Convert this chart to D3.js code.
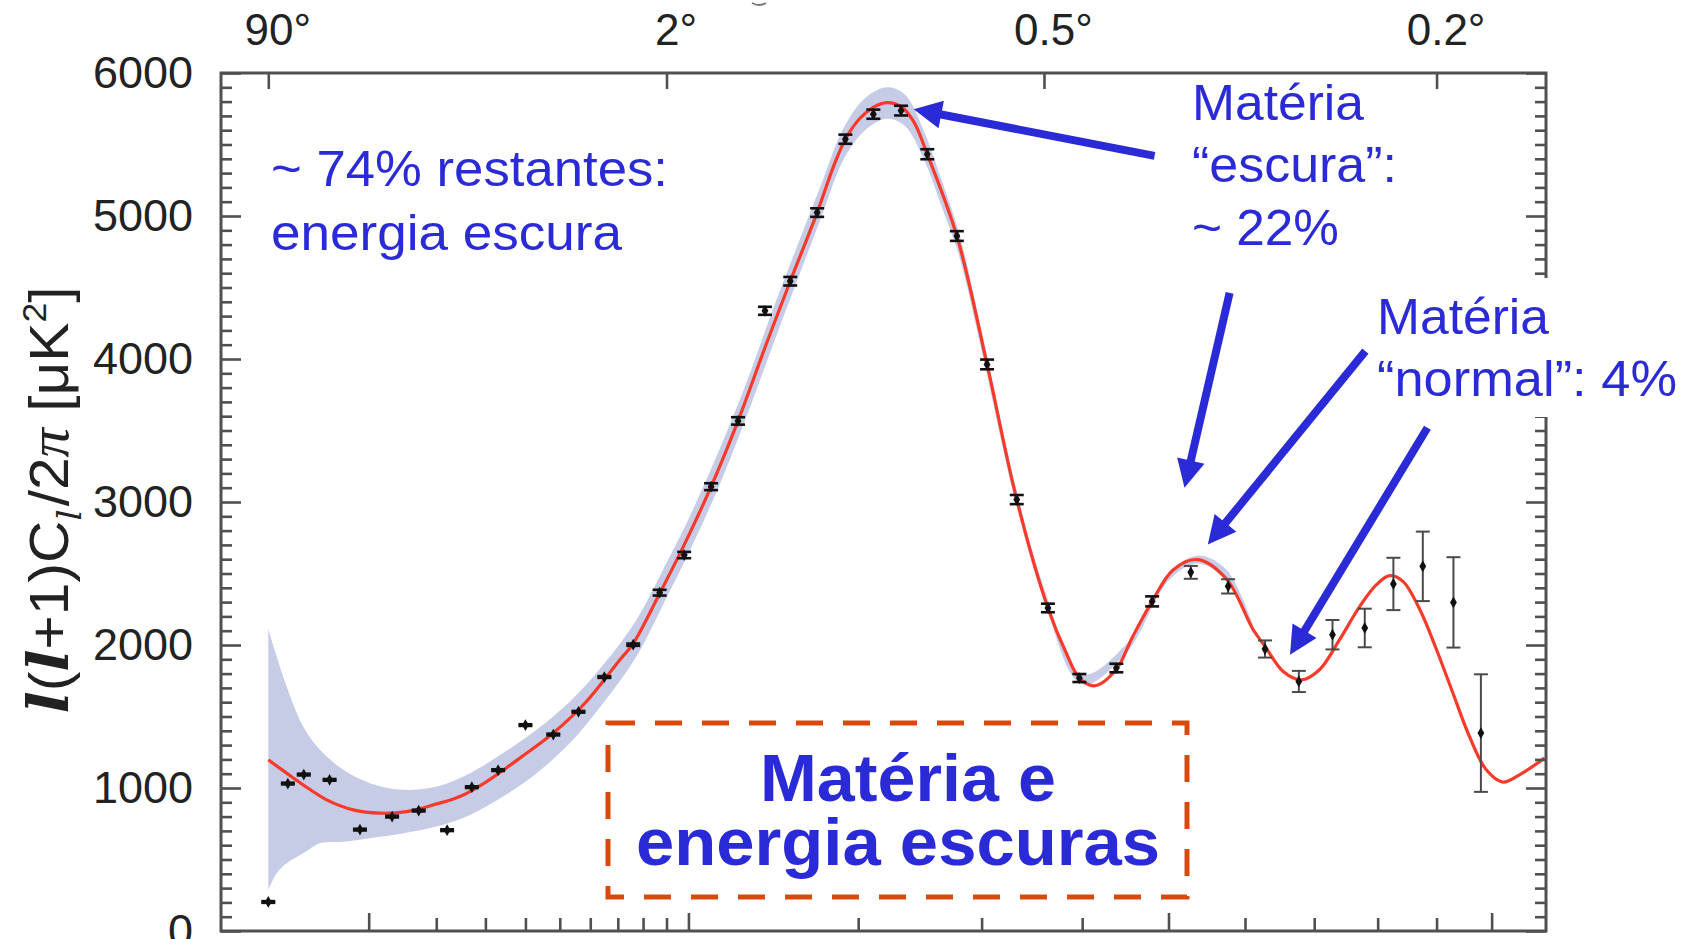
<!DOCTYPE html>
<html>
<head>
<meta charset="utf-8">
<script src="https://cdn.jsdelivr.net/npm/d3@7"></script>
<style>
body{margin:0;background:#fff;overflow:hidden}
svg{display:block;font-family:"Liberation Sans",Arial,Helvetica,sans-serif}
</style>
</head>
<body>
<div id="wrapper"></div>
<script>
// Data
const ell = [2,3,4,6,9,13,17,22,27,33,40,48,56,65,76,87,98,111,125,140,155,172,191,211,232,253,278,305,333,364,397,438,480,528,577,628,677,728,779,826,876,930,980];
const power = [203,1031,1094,1057,709,800,842,705,1006,1125,1440,1374,1533,1776,2002,2366,2629,3107,3567,4337,4544,5024,5537,5712,5737,5432,4860,3962,3017,2259,1769,1839,2305,2508,2410,1972,1745,2072,2119,2427,2550,2298,1384];
const powerErr = [6,6,6,6,6,6,6,6,6,6,6,6,6,6,8,20,22,24,26,28,30,30,32,32,34,35,34,34,32,30,28,30,35,45,50,60,74,103,135,183,243,316,411];

// best-fit model (red line)
const modelEll = [2,2.93,3.96,5.75,8.27,11.4,15.1,19.5,24.5,30.3,38.5,48,58.7,70.8,76,87,98,111,125,140,155,172,183,191,201,211,221,232,242,253,278,305,333,364,383,397,414,438,457,480,506,537,575,611,628,654,681,708,739,771,798,820,842,871,900,929,959,990,1021,1053,1102];
const modelPower = [1197,1104,1022,917,847,824,835,882,940,1045,1209,1384,1605,1897,2010,2360,2700,3107,3567,4080,4544,5024,5350,5537,5680,5760,5793,5765,5660,5432,4860,3962,3017,2259,1944,1769,1715,1830,2060,2305,2527,2597,2460,2110,1990,1815,1757,1827,2037,2270,2422,2485,2445,2247,1967,1664,1360,1127,1041,1092,1209];

// cosmic variance band
const bandEll = [2,2.4,2.93,3.96,5.2,7.26,10.15,14.6,20.07,26.6,34.2,43.1,53.2,64.6,77.3,90,100,115,130,145,160,175,190,205,221,235,250,265,280,300,330,360,400,450,500,537,575,611];
const bandHigh = [2112,1920,1710,1430,1267,1127,1034,987,1010,1104,1244,1407,1605,1862,2177,2575,2880,3360,3850,4360,4810,5230,5620,5825,5900,5850,5600,5250,4880,4200,3165,2400,1795,2010,2505,2625,2525,2140];
const bandLow = [287,404,474,544,614,625,649,684,730,812,940,1104,1314,1594,1920,2330,2640,3110,3610,4110,4570,5000,5400,5600,5680,5630,5400,5065,4720,4060,3055,2315,1725,1950,2450,2570,2445,2080];

// ticks
const yMajor = [0,1000,2000,3000,4000,5000,6000];
const yMinor = d3.range(0,6001,100).filter(v=>v%1000!==0);
const ellMajor = [10,100,500,1000];
const ellMinor = [20,30,40,50,60,70,80,90,200,300,400,600,700,800,900];
const angleEll = [2,90,360,900];
const angleLabels = ['90','2','0.5','0.2'];

// annotation arrows (data coordinates: [ell, power])
const arrowFrom = [[483,5420],[579,4463],[780,4055],[884,3519]];
const arrowTo = [[242,5747],[520,3099],[550,2702],[664,1932]];

// Dimension
const dimension = {width:1695,height:939,margin:{top:73,left:221,right:149,bottom:8}};
dimension.boundWidth = dimension.width-dimension.margin.left-dimension.margin.right;
dimension.boundHeight = 931-dimension.margin.top;

const blue = '#2a2ad6';
const axisColor = '#505050';

// Canvas
const svg = d3.select('#wrapper').append('svg')
  .attr('width',dimension.width).attr('height',dimension.height);
svg.append('rect').attr('width',dimension.width).attr('height',dimension.height).attr('fill','#fff');
const bounds = svg.append('g')
  .attr('transform',`translate(${dimension.margin.left},${dimension.margin.top})`);

// Scales
const xScale = d3.scalePow().exponent(0.4).domain([0.5,1105]).range([0,dimension.boundWidth]);
const yScale = d3.scaleLinear().domain([0,6000]).range([dimension.boundHeight,0]);

// band
const bandData = bandEll.map((l,i)=>({l,lo:bandLow[i],hi:bandHigh[i]}));
const area = d3.area().x(d=>xScale(d.l)).y0(d=>yScale(d.lo)).y1(d=>yScale(d.hi))
  .curve(d3.curveCatmullRom.alpha(0.5));
bounds.append('path').datum(bandData).attr('d',area).attr('fill','#c6cce6');

// model line
const modelData = modelEll.map((l,i)=>({l,v:modelPower[i]}));
const line = d3.line().x(d=>xScale(d.l)).y(d=>yScale(d.v)).curve(d3.curveCatmullRom.alpha(0.5));
bounds.append('path').datum(modelData).attr('d',line)
  .attr('fill','none').attr('stroke','#f83a2a').attr('stroke-width',3.2);

// data points with error bars
const pts = ell.map((l,i)=>({l,v:power[i],e:powerErr[i]}));
const pg = bounds.append('g').selectAll('g').data(pts).enter().append('g');
pg.append('line')
  .attr('x1',d=>xScale(d.l)).attr('x2',d=>xScale(d.l))
  .attr('y1',d=>yScale(d.v-d.e)).attr('y2',d=>yScale(d.v+d.e))
  .attr('stroke',d=>d.e>40?'#4a4a4a':'#111').attr('stroke-width',2);
[-1,1].forEach(s=>{
  pg.append('line')
    .attr('x1',d=>xScale(d.l)-7).attr('x2',d=>xScale(d.l)+7)
    .attr('y1',d=>yScale(d.v+s*d.e)).attr('y2',d=>yScale(d.v+s*d.e))
    .attr('stroke',d=>d.e>40?'#4a4a4a':'#111').attr('stroke-width',d=>d.e>40?2:2.6);
});
pg.append('path')
  .attr('transform',d=>`translate(${xScale(d.l)},${yScale(d.v)})`)
  .attr('d',d3.symbol(d3.symbolDiamond,40)).attr('fill','#111');

// axes
const styleAxis = g=>{
  g.select('.domain').remove();
  g.selectAll('.tick line').attr('stroke',axisColor).attr('stroke-width',2.6);
  g.selectAll('.tick text').attr('fill','#222').attr('font-size',45)
    .attr('font-family','"Liberation Sans",Arial,sans-serif');
};
bounds.append('g').call(d3.axisLeft(yScale).tickValues(yMinor).tickSize(-11).tickFormat('')).call(styleAxis);
bounds.append('g').call(d3.axisLeft(yScale).tickValues(yMajor).tickSize(-20).tickPadding(28)
  .tickFormat(d3.format('d'))).call(styleAxis);
bounds.append('g').attr('transform',`translate(${dimension.boundWidth},0)`)
  .call(d3.axisRight(yScale).tickValues(yMinor).tickSize(-11).tickFormat('')).call(styleAxis);
bounds.append('g').attr('transform',`translate(${dimension.boundWidth},0)`)
  .call(d3.axisRight(yScale).tickValues(yMajor).tickSize(-20).tickFormat('')).call(styleAxis);
bounds.append('g').attr('transform',`translate(0,${dimension.boundHeight})`)
  .call(d3.axisBottom(xScale).tickValues(ellMinor).tickSize(-13).tickFormat('')).call(styleAxis);
bounds.append('g').attr('transform',`translate(0,${dimension.boundHeight})`)
  .call(d3.axisBottom(xScale).tickValues(ellMajor).tickSize(-18).tickFormat('')).call(styleAxis);
const topAxis = bounds.append('g')
  .call(d3.axisTop(xScale).tickValues(angleEll).tickSize(-16).tickPadding(28)
    .tickFormat((d,i)=>angleLabels[i]+'°')).call(styleAxis);
topAxis.selectAll('.tick text').attr('dx',9).attr('font-size',44);

// frame
bounds.append('rect').attr('width',dimension.boundWidth).attr('height',dimension.boundHeight)
  .attr('fill','none').attr('stroke',axisColor).attr('stroke-width',3);

// small mark above the frame
svg.append('path').attr('d','M752,3 Q759,7 766,3').attr('fill','none').attr('stroke','#777').attr('stroke-width',2);

// y axis title
const yTitle = svg.append('text').attr('transform','translate(68,500) rotate(-90)')
  .attr('text-anchor','middle').attr('font-size',56).attr('fill','#222')
  .attr('textLength',427).attr('lengthAdjust','spacingAndGlyphs');
const serif = '"DejaVu Serif","Liberation Serif",serif';
yTitle.append('tspan').text('l').attr('font-family',serif).attr('font-style','italic').attr('font-weight','bold');
yTitle.append('tspan').text('(');
yTitle.append('tspan').text('l').attr('font-family',serif).attr('font-style','italic').attr('font-weight','bold');
yTitle.append('tspan').text('+1)C');
yTitle.append('tspan').text('l').attr('font-family',serif).attr('font-style','italic').attr('font-size',34).attr('dy',13);
yTitle.append('tspan').text('/2').attr('dy',-13).attr('dx',3);
yTitle.append('tspan').text('π').attr('font-family','"Liberation Serif",serif').attr('font-style','italic');
yTitle.append('tspan').text(' [μK');
yTitle.append('tspan').text('2').attr('font-size',34).attr('dy',-22);
yTitle.append('tspan').text(']').attr('dy',22);

// white patch behind right label
svg.append('rect').attr('x',1370).attr('y',278).attr('width',325).attr('height',139).attr('fill','#fff');

// arrows
const ax = d=>dimension.margin.left+xScale(d[0]);
const ay = d=>dimension.margin.top+yScale(d[1]);
arrowFrom.forEach((f,i)=>{
  const x1=ax(f),y1=ay(f),x2=ax(arrowTo[i]),y2=ay(arrowTo[i]);
  const len=Math.hypot(x2-x1,y2-y1),ux=(x2-x1)/len,uy=(y2-y1)/len;
  const hl=28,hw=14,bx=x2-ux*hl,by=y2-uy*hl;
  svg.append('line').attr('x1',x1).attr('y1',y1).attr('x2',x2-ux*20).attr('y2',y2-uy*20)
    .attr('stroke',blue).attr('stroke-width',8);
  svg.append('path')
    .attr('d',`M${x2},${y2}L${bx-uy*hw},${by+ux*hw}L${bx+uy*hw},${by-ux*hw}Z`)
    .attr('fill',blue);
});

// annotation texts
const note = (txt,x,y,len,size,opts={})=>{
  const t = svg.append('text').attr('x',x).attr('y',y).text(txt)
    .attr('fill',blue).attr('font-size',size)
    .attr('textLength',len).attr('lengthAdjust','spacingAndGlyphs');
  if(opts.bold) t.attr('font-weight','bold');
  if(opts.anchor) t.attr('text-anchor',opts.anchor);
  return t;
};
note('~ 74% restantes:',271,186,397,50);
note('energia escura',271,250,351,50);
note('Matéria',1192,120,172,50);
note('“escura”:',1192,182,205,50);
note('~ 22%',1192,245,147,50);
note('Matéria',1377,334,172,50);
note('“normal”: 4%',1377,396,300,50);

// dashed box
svg.append('rect').attr('x',608).attr('y',723).attr('width',579).attr('height',174)
  .attr('fill','none').attr('stroke','#d84a0c').attr('stroke-width',5).attr('stroke-dasharray','27,20');
note('Matéria e',908,801,296,66,{bold:true,anchor:'middle'});
note('energia escuras',898,865,524,66,{bold:true,anchor:'middle'});
</script>
</body>
</html>
